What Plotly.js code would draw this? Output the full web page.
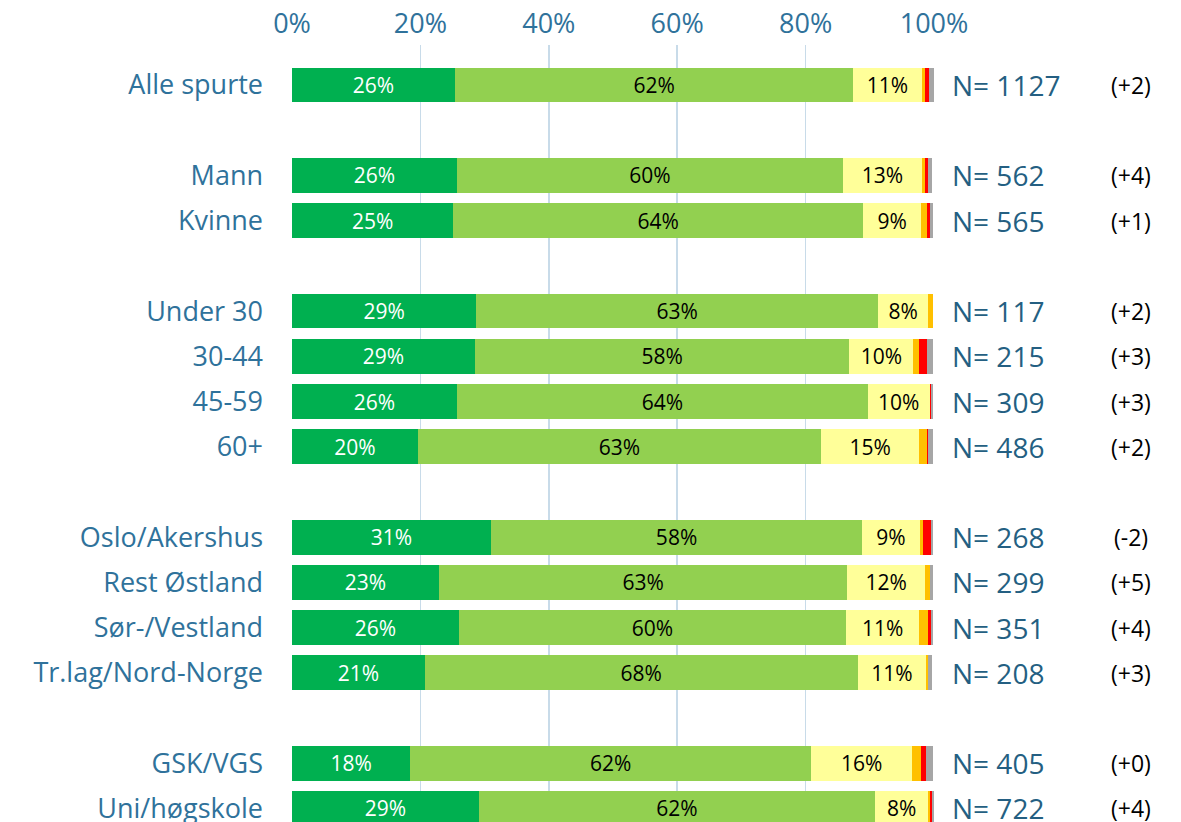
<!DOCTYPE html>
<html>
<head>
<meta charset="utf-8">
<script src="https://cdn.plot.ly/plotly-3.0.1.min.js"></script>
<style>
html,body{margin:0;padding:0;background:#fff;overflow:hidden;width:1181px;height:822px;}
#chart{width:1181px;height:870px;}
</style>
</head>
<body>
<div id="chart"></div>
<script>
// ---- data ----
const categories = ["Alle spurte","Mann","Kvinne","Under 30","30-44","45-59","60+","Oslo/Akershus","Rest Østland","Sør-/Vestland","Tr.lag/Nord-Norge","GSK/VGS","Uni/høgskole"];
const groupIndex = [0,1,1,2,2,2,2,3,3,3,3,4,4];
const svaertGodt   = [25.4,25.7,25.1,28.7,28.5,25.7,19.6,31.0,22.9,26.0,20.7,18.4,29.1];
const ganskeGodt   = [62.0,60.1,63.9,62.6,58.3,64.0,62.8,57.8,63.6,60.3,67.4,62.5,61.7];
const verkenEller  = [10.7,12.3,9.0,7.8,10.0,9.6,15.3,9.0,12.1,11.4,10.7,15.7,8.3];
const ganskeDaarlig= [0.5,0.5,0.9,0.7,0.9,0,1.2,0.5,0.7,1.3,0.3,1.3,0.3];
const svaertDaarlig= [0.6,0.5,0.4,0,1.2,0.3,0.2,1.2,0,0.5,0,0.8,0.3];
const vetIkke      = [0.8,0.6,0.6,0,0.9,0.3,0.8,0.3,0.5,0.3,0.6,1.1,0.3];
const svaertGodtLabel  = [26,26,25,29,29,26,20,31,23,26,21,18,29];
const ganskeGodtLabel  = [62,60,64,63,58,64,63,58,63,60,68,62,62];
const verkenEllerLabel = [11,13,9,8,10,10,15,9,12,11,11,16,8];
const nValues = [1127,562,565,117,215,309,486,268,299,351,208,405,722];
const changes = ["(+2)","(+4)","(+1)","(+2)","(+3)","(+3)","(+2)","(-2)","(+5)","(+4)","(+3)","(+0)","(+4)"];
const xTickVals = [0,20,40,60,80,100];
const xTickText = ["0%","20%","40%","60%","80%","100%"];

// ---- build ----
const yPos = categories.map((c,i)=>i+groupIndex[i]);
const FONT = "'Open Sans', 'Noto Sans', sans-serif";
const BLUE = "#2f729b";
const NBLUE = "#245f82";

function mk(name, vals, color, labels, txtColor){
  return {
    type:'bar', orientation:'h', name:name,
    x: vals, y: yPos,
    marker:{color:color, line:{width:0}},
    text: labels ? labels.map(v=>v+'%') : vals.map(()=>''),
    textposition: labels ? 'inside' : 'none',
    insidetextanchor:'middle',
    textangle:0,
    constraintext:'none',
    textfont:{family:FONT, size:21, color:txtColor||'#000'},
    hoverinfo:'name+x'
  };
}

const data = [
  mk('Svært godt', svaertGodt, '#00b050', svaertGodtLabel, '#ffffff'),
  mk('Ganske godt', ganskeGodt, '#92d050', ganskeGodtLabel, '#000000'),
  mk('Verken eller', verkenEller, '#ffff99', verkenEllerLabel, '#000000'),
  mk('Ganske dårlig', ganskeDaarlig, '#ffc000', null),
  mk('Svært dårlig', svaertDaarlig, '#ff0000', null),
  mk('Vet ikke', vetIkke, '#a6a6a6', null)
];

const annotations = [];
categories.forEach((c,i)=>{
  annotations.push({xref:'paper', yref:'y', x:1.025, y:yPos[i], xanchor:'left', yanchor:'middle',
    text:'N= '+nValues[i], showarrow:false, font:{family:FONT, size:28, color:NBLUE}});
  annotations.push({xref:'paper', yref:'y', x:1.307, y:yPos[i], xanchor:'center', yanchor:'middle',
    text:changes[i], showarrow:false, font:{family:FONT, size:23, color:'#000'}});
});

const layout = {
  width:1181, height:870,
  margin:{l:292, r:247, t:45, b:48},
  barmode:'stack',
  bargap:0.23,
  showlegend:false,
  paper_bgcolor:'#fff', plot_bgcolor:'#fff',
  uniformtext:{minsize:21, mode:'show'},
  xaxis:{
    side:'top', range:[0,100], tickvals:xTickVals, ticktext:xTickText,
    showgrid:true, gridcolor:'#c8dbe9', gridwidth:1.5, zeroline:false,
    showline:false, ticks:'', ticklabelstandoff:6,
    tickfont:{family:FONT, size:27, color:BLUE}, fixedrange:true
  },
  yaxis:{
    autorange:false, range:[16.3,-0.885],
    tickvals:yPos, ticktext:categories,
    showgrid:false, zeroline:false, showline:false, ticks:'',
    ticklabelstandoff:28,
    tickfont:{family:FONT, size:27, color:BLUE}, fixedrange:true
  },
  annotations:annotations,
  font:{family:FONT}
};

Plotly.newPlot('chart', data, layout, {displayModeBar:false, staticPlot:true});
</script>
</body>
</html>
